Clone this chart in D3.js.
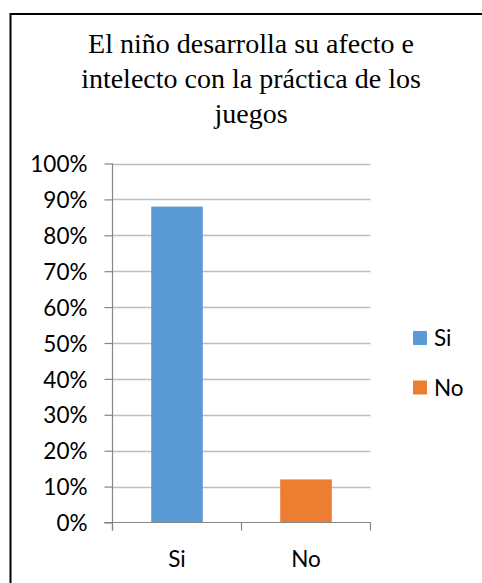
<!DOCTYPE html>
<html><head><meta charset="utf-8">
<script src="https://cdn.jsdelivr.net/npm/d3@7"></script>
<style>body{margin:0;background:#fff;}svg{display:block;}</style>
</head><body>
<svg id="c" width="482" height="583"></svg>
<script>
const titleLines = ["El niño desarrolla su afecto e", "intelecto con la práctica de los", "juegos"];
const categories = ["Si", "No"];
const values = [0.88, 0.12];
const colors = ["#5b9bd5", "#ed7d31"];
const yTicks = [0, 0.1, 0.2, 0.3, 0.4, 0.5, 0.6, 0.7, 0.8, 0.9, 1.0];

const svg = d3.select("#c");
const serifF = '"Liberation Serif", serif';
const sansF = '"Lato", sans-serif';

// frame
svg.append("path").attr("d", "M10.5,600 L10.5,14 L500,14")
  .attr("fill", "none").attr("stroke", "#000").attr("stroke-width", 2);

// title
svg.append("g").selectAll("text").data(titleLines).join("text")
  .attr("x", 251).attr("y", (d, i) => 53 + i * 35)
  .attr("text-anchor", "middle")
  .style("font-family", serifF)
  .style("font-size", "28px").attr("fill", "#000").text(d => d);

const x = d3.scaleBand().domain(categories).range([112.5, 370.5]).paddingInner(0.6).paddingOuter(0.3);
const y = d3.scaleLinear().domain([0, 1]).range([522.5, 163.5]);

// gridlines
svg.append("g").selectAll("line").data(yTicks.slice(1)).join("line")
  .attr("x1", 112.5).attr("x2", 370.5)
  .attr("y1", d => Math.round(y(d)) + 0.5).attr("y2", d => Math.round(y(d)) + 0.5)
  .attr("stroke", "#bfbfbf").attr("stroke-width", 1.5);

// bars
svg.append("g").selectAll("rect").data(values).join("rect")
  .attr("x", (d, i) => x(categories[i]))
  .attr("width", x.bandwidth())
  .attr("y", d => y(d))
  .attr("height", d => y(0) - y(d))
  .attr("fill", (d, i) => colors[i]);

// y axis
const yAxis = d3.axisLeft(y).tickValues(yTicks).tickFormat(d3.format(".0%")).tickSize(8).tickPadding(17);
const gy = svg.append("g").attr("transform", "translate(112.5,0)").call(yAxis);
gy.select(".domain").attr("stroke", "#868686").attr("stroke-width", 1.2).attr("d", "M0,163.5V530.5");
gy.selectAll(".tick line").attr("stroke", "#868686").attr("stroke-width", 1.2);
gy.selectAll(".tick text").style("font-family", sansF).style("font-size", "22.5px").attr("fill", "#000").attr("dy", "0.36em");

// x axis
const gx = svg.append("g").attr("transform", "translate(0,522.5)");
gx.append("line").attr("x1", 104).attr("x2", 370.5).attr("y1", 0).attr("y2", 0)
  .attr("stroke", "#868686").attr("stroke-width", 1.2);
const step = (370.5 - 112.5) / categories.length;
gx.selectAll("line.t").data(d3.range(categories.length + 1)).join("line").attr("class", "t")
  .attr("x1", i => 112.5 + i * step).attr("x2", i => 112.5 + i * step)
  .attr("y1", 0).attr("y2", 8).attr("stroke", "#868686").attr("stroke-width", 1.2);
gx.selectAll("text").data(categories).join("text")
  .attr("x", d => x(d) + x.bandwidth() / 2).attr("y", 44)
  .attr("text-anchor", "middle").style("font-family", sansF).style("font-size", "22.5px")
  .attr("fill", "#000").text(d => d);

// legend
const lg = svg.append("g").selectAll("g").data(categories).join("g")
  .attr("transform", (d, i) => `translate(413,${331 + i * 49.5})`);
lg.append("rect").attr("width", 14).attr("height", 14).attr("fill", (d, i) => colors[i]);
lg.append("text").attr("x", 21).attr("y", 7).attr("dy", "0.36em")
  .style("font-family", sansF).style("font-size", "22.5px").attr("fill", "#000").text(d => d);
</script>
</body></html>
